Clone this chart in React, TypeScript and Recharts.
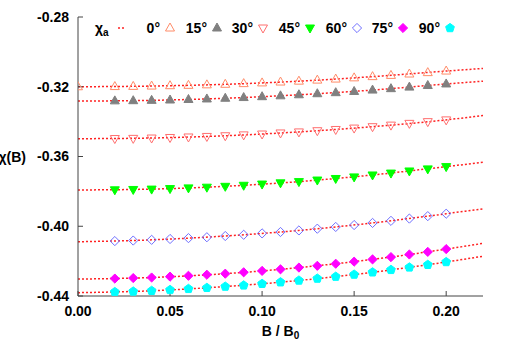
import React from 'react';
import { ComposedChart, Line, Scatter, XAxis, YAxis, Legend } from 'recharts';

// ---------- data ----------
const bValues = [0.02, 0.03, 0.04, 0.05, 0.06, 0.07, 0.08, 0.09, 0.1, 0.11, 0.12, 0.13, 0.14, 0.15, 0.16, 0.17, 0.18, 0.19, 0.2];
const bValues0 = [0, 0.02, 0.03, 0.04, 0.05, 0.06, 0.07, 0.08, 0.09, 0.1, 0.11, 0.12, 0.13, 0.14, 0.15, 0.16, 0.17, 0.18, 0.19, 0.2];

const chi0 = [-0.32, -0.3199, -0.3198, -0.3196, -0.3194, -0.3192, -0.3189, -0.3186, -0.3182, -0.3178, -0.3173, -0.3168, -0.3162, -0.3156, -0.3149, -0.3142, -0.3135, -0.3127, -0.3119, -0.311];
const chi15 = [-0.3281, -0.328, -0.3278, -0.3276, -0.3273, -0.327, -0.3266, -0.3262, -0.3257, -0.3252, -0.3246, -0.324, -0.3234, -0.3227, -0.3219, -0.3211, -0.3202, -0.3193, -0.3184];
const chi30 = [-0.3497, -0.3496, -0.3494, -0.3491, -0.3488, -0.3485, -0.3481, -0.3476, -0.3471, -0.3465, -0.3459, -0.3452, -0.3445, -0.3437, -0.3429, -0.342, -0.341, -0.34, -0.339];
const chi45 = [-0.3791, -0.3789, -0.3787, -0.3784, -0.378, -0.3776, -0.3771, -0.3765, -0.3758, -0.3751, -0.3744, -0.3735, -0.3726, -0.3717, -0.3706, -0.3695, -0.3683, -0.3671, -0.3658];
const chi60 = [-0.4085, -0.4082, -0.4078, -0.4073, -0.4068, -0.4063, -0.4056, -0.4049, -0.4041, -0.4033, -0.4024, -0.4014, -0.4004, -0.3993, -0.3981, -0.3969, -0.3956, -0.3942, -0.3928];
const chi75 = [-0.43, -0.4297, -0.4294, -0.4289, -0.4284, -0.4278, -0.4272, -0.4264, -0.4256, -0.4247, -0.4237, -0.4227, -0.4215, -0.4203, -0.419, -0.4177, -0.4162, -0.4147, -0.4131];
const chi90 = [-0.4377, -0.4374, -0.437, -0.4365, -0.4359, -0.4353, -0.4346, -0.4339, -0.433, -0.4321, -0.4311, -0.43, -0.4289, -0.4277, -0.4264, -0.425, -0.4236, -0.4221, -0.4205];

const fitB = [0, 0.04, 0.08, 0.12, 0.16, 0.2, 0.22];
const fit0 = [-0.32, -0.3196, -0.3186, -0.3168, -0.3142, -0.311, -0.3095];
const fit15 = [-0.3282, -0.3278, -0.3266, -0.3246, -0.3219, -0.3184, -0.3168];
const fit30 = [-0.3498, -0.3494, -0.3481, -0.3459, -0.3429, -0.339, -0.3365];
const fit45 = [-0.3792, -0.3787, -0.3771, -0.3744, -0.3706, -0.3658, -0.3633];
const fit60 = [-0.4089, -0.4078, -0.4056, -0.4024, -0.3981, -0.3928, -0.39];
const fit75 = [-0.4303, -0.4294, -0.4272, -0.4237, -0.419, -0.4131, -0.4098];
const fit90 = [-0.4381, -0.437, -0.4346, -0.4311, -0.4264, -0.4205, -0.4172];

const angleLabels = ['0°', '15°', '30°', '45°', '60°', '75°', '90°'];
const xTicks = [0, 0.05, 0.1, 0.15, 0.2];
const yTicks = [-0.44, -0.4, -0.36, -0.32, -0.28];

// ---------- styles ----------
const FONT = '"Liberation Sans", Arial, Helvetica, sans-serif';
const AXIS = '#444444';
const FIT_COLOR = '#ff2222';

type Kind = 'triUp' | 'triDown' | 'diamond' | 'pentagon';
const markerStyles: { kind: Kind; fill: string; stroke: string }[] = [
  { kind: 'triUp', fill: 'none', stroke: '#ff8c69' },
  { kind: 'triUp', fill: '#808080', stroke: '#808080' },
  { kind: 'triDown', fill: 'none', stroke: '#ff6f6f' },
  { kind: 'triDown', fill: '#00ff00', stroke: '#00ff00' },
  { kind: 'diamond', fill: 'none', stroke: '#6f6fff' },
  { kind: 'diamond', fill: '#ff00ff', stroke: '#ff00ff' },
  { kind: 'pentagon', fill: '#00ffff', stroke: '#00ffff' },
];

const toPts = (arr: number[], ys: number[]) => arr.map((x, i) => ({ x, y: ys[i] }));
const pointSets = [
  toPts(bValues0, chi0),
  toPts(bValues, chi15),
  toPts(bValues, chi30),
  toPts(bValues, chi45),
  toPts(bValues, chi60),
  toPts(bValues, chi75),
  toPts(bValues, chi90),
];
const fitSets = [fit0, fit15, fit30, fit45, fit60, fit75, fit90].map((f) => toPts(fitB, f));

function markerPoints(kind: Kind, cx: number, cy: number): string {
  let pts: number[][] = [];
  if (kind === 'triUp') pts = [[cx, cy - 5], [cx - 4.5, cy + 3], [cx + 4.5, cy + 3]];
  else if (kind === 'triDown') pts = [[cx, cy + 5], [cx - 4.5, cy - 3], [cx + 4.5, cy - 3]];
  else if (kind === 'diamond') pts = [[cx, cy - 4.6], [cx + 4.6, cy], [cx, cy + 4.6], [cx - 4.6, cy]];
  else {
    const r = 4.6;
    for (let k = 0; k < 5; k++) {
      const a = -Math.PI / 2 + (k * 2 * Math.PI) / 5;
      pts.push([cx + r * Math.cos(a), cy + r * Math.sin(a)]);
    }
  }
  return pts.map((p) => p.join(',')).join(' ');
}

function Marker({ kind, cx, cy, fill, stroke }: { kind: Kind; cx: number; cy: number; fill: string; stroke: string }) {
  return <polygon points={markerPoints(kind, cx, cy)} fill={fill} stroke={stroke} strokeWidth={1} />;
}

const makeShape = (i: number) => (props: any) => {
  const { cx, cy } = props;
  if (cx == null || cy == null) return <g />;
  const m = markerStyles[i];
  return <Marker kind={m.kind} cx={cx} cy={cy} fill={m.fill} stroke={m.stroke} />;
};

const legendMarkerX = [92, 139, 185, 232, 279, 325, 372];

function LegendContent() {
  return (
    <svg width={405} height={26} style={{ display: 'block', overflow: 'visible' }}>
      <text x={17} y={16} fontFamily={FONT} fontWeight="bold" fontSize={14} fill="#000">
        χ<tspan fontSize={10} dy={3}>a</tspan>
      </text>
      <line x1={40} y1={11} x2={48} y2={11} stroke={FIT_COLOR} strokeWidth={1.5} strokeDasharray="2 2" />
      {angleLabels.map((lab, i) => (
        <g key={lab}>
          <text x={legendMarkerX[i] - 10} y={16} textAnchor="end" fontFamily={FONT} fontWeight="bold" fontSize={14} fill="#000">
            {lab}
          </text>
          <Marker kind={markerStyles[i].kind} cx={legendMarkerX[i]} cy={11} fill={markerStyles[i].fill} stroke={markerStyles[i].stroke} />
        </g>
      ))}
    </svg>
  );
}

const XLabel = (props: any) => {
  const vb = props.viewBox || { x: 78, y: 296, width: 405, height: 30 };
  const cx = vb.x + vb.width / 2;
  return (
    <text x={cx} y={336} textAnchor="middle" fontFamily={FONT} fontWeight="bold" fontSize={14} fill="#000">
      B / B<tspan fontSize={10} dy={3}>0</tspan>
    </text>
  );
};

const YLabel = (props: any) => {
  const vb = props.viewBox || { x: 18, y: 17, width: 60, height: 279 };
  return (
    <text x={vb.x + 8} y={vb.y + vb.height / 2 + 5} textAnchor="end" fontFamily={FONT} fontWeight="bold" fontSize={14} fill="#000">
      χ(B)
    </text>
  );
};

const tickStyle = { fontFamily: FONT, fontWeight: 'bold', fontSize: 14, fill: '#000' } as any;

export default function App() {
  return (
    <div style={{ position: 'absolute', left: 0, top: 0, width: 509, height: 356, background: '#fff' }}>
      <ComposedChart width={509} height={356} margin={{ top: 17, right: 26, bottom: 30, left: 18 }}>
        <XAxis
          xAxisId="main"
          type="number"
          dataKey="x"
          domain={[0, 0.22]}
          ticks={xTicks}
          tickFormatter={(v: number) => v.toFixed(2)}
          allowDataOverflow
          height={30}
          tickSize={-5}
          tickMargin={15}
          tick={tickStyle}
          axisLine={{ stroke: AXIS, strokeWidth: 1 }}
          tickLine={{ stroke: AXIS }}
          label={<XLabel />}
        />
        <XAxis
          xAxisId="top"
          orientation="top"
          type="number"
          dataKey="x"
          domain={[0, 0.22]}
          ticks={xTicks}
          allowDataOverflow
          height={0}
          tickSize={-5}
          tick={false}
          axisLine={{ stroke: AXIS, strokeWidth: 1 }}
          tickLine={{ stroke: AXIS }}
        />
        <YAxis
          yAxisId="main"
          type="number"
          dataKey="y"
          domain={[-0.44, -0.28]}
          ticks={yTicks}
          tickFormatter={(v: number) => v.toFixed(2)}
          allowDataOverflow
          width={60}
          tickSize={-5}
          tickMargin={14}
          tick={tickStyle}
          axisLine={{ stroke: AXIS, strokeWidth: 1 }}
          tickLine={{ stroke: AXIS }}
          label={<YLabel />}
        />
        <YAxis
          yAxisId="right"
          orientation="right"
          type="number"
          dataKey="y"
          domain={[-0.44, -0.28]}
          ticks={yTicks}
          allowDataOverflow
          width={0}
          tickSize={-5}
          tick={false}
          axisLine={{ stroke: AXIS, strokeWidth: 1 }}
          tickLine={{ stroke: AXIS }}
        />
        {pointSets.map((pts, i) => (
          <Scatter
            key={'s' + i}
            name={angleLabels[i]}
            data={pts}
            xAxisId="main"
            yAxisId="main"
            shape={makeShape(i)}
            isAnimationActive={false}
            legendType="none"
          />
        ))}
        {fitSets.map((pts, i) => (
          <Line
            key={'f' + i}
            data={pts}
            dataKey="y"
            xAxisId="main"
            yAxisId="main"
            type="monotone"
            stroke={FIT_COLOR}
            strokeWidth={1.5}
            strokeDasharray="2 2"
            dot={false}
            activeDot={false}
            isAnimationActive={false}
            legendType="none"
          />
        ))}
        <Legend
          layout="vertical"
          align="center"
          verticalAlign="middle"
          content={<LegendContent />}
          wrapperStyle={{ top: 17, left: 78, width: 405, height: 26, margin: 0 }}
        />
      </ComposedChart>
    </div>
  );
}
